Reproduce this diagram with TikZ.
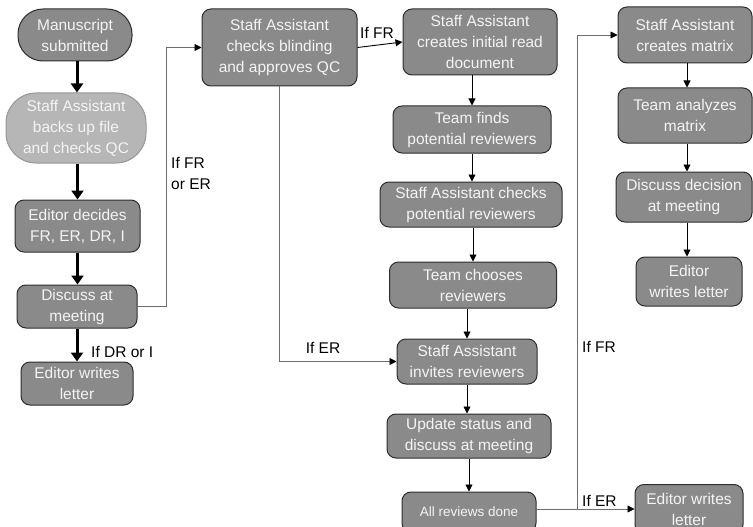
\documentclass[tikz,border=0pt]{standalone}
\usepackage{fontspec}
\setmainfont{Liberation Sans}
\usetikzlibrary{arrows.meta}
\definecolor{boxfill}{RGB}{138,138,138}
\definecolor{boxdraw}{RGB}{45,45,45}
\definecolor{lightfill}{RGB}{182,182,182}
\definecolor{lightdraw}{RGB}{150,150,150}
\definecolor{txt}{RGB}{244,244,244}
\definecolor{connc}{RGB}{110,110,110}
\begin{document}
\begin{tikzpicture}[x=1pt,y=-1pt,
  sz/.style 2 args={minimum width=#1pt, minimum height=#2pt},
  box/.style={draw=boxdraw, fill=boxfill, line width=1pt, rounded corners=9pt, text=txt, align=center, inner sep=0pt, font=\fontsize{15.5}{21}\selectfont},
  lightbox/.style={box, draw=lightdraw, fill=lightfill},
  lbl/.style={text=black, align=left, inner sep=0pt, font=\fontsize{15.5}{21}\selectfont},
  bigarr/.style={draw=black, line width=3pt, -{Triangle[length=9pt,width=12pt]}},
  arr/.style={draw=black, line width=0.9pt, -{Triangle[length=7pt,width=7pt]}},
  conn/.style={draw=connc, line width=0.9pt, -{Triangle[length=7pt,width=7pt,color=black]}}
]
\useasboundingbox (0,0) rectangle (753,527);

% left column
\node[box, sz={114}{52}, rounded corners=25pt] (ms) at (75,35) {Manuscript\\submitted};
\node[lightbox, sz={140}{70}, rounded corners=30pt] (bk) at (76,128) {Staff Assistant\\backs up file\\and checks QC};
\node[box, sz={125}{52}] (ed) at (77.5,226) {Editor decides\\FR, ER, DR, I};
\node[box, sz={120}{43}] (dm) at (77,306.5) {Discuss at\\meeting};
\node[box, sz={112}{43}] (el) at (77,383.5) {Editor writes\\letter};

\draw[bigarr] ([xshift=2pt]ms.south) -- ([xshift=2pt]ms.south |- bk.north);
\draw[bigarr] (ed.north |- bk.south) -- (ed.north);
\draw[bigarr] (ed.south) -- (ed.south |- dm.north);
\draw[bigarr] (dm.south) -- (el.north);
\node[lbl, anchor=west] (ldr) at (91,352) {If DR or I};

% middle-left
\node[box, sz={155}{77}] (cb) at (279.5,47.5) {Staff Assistant\\checks blinding\\and approves QC};
\coordinate (c1) at (166,306.5);
\draw[conn] (dm.east) -- (c1) |- (cb.west);
\node[lbl, anchor=west] (lfe) at (171,173.5) {If FR\\or ER};

% middle column
\node[box, sz={154}{66}] (ir) at (480,42) {Staff Assistant\\creates initial read\\document};
\node[box, sz={158}{47}] (tf) at (472,129.5) {Team finds\\potential reviewers};
\node[box, sz={182}{45}] (cp) at (471,204.5) {Staff Assistant checks\\potential reviewers};
\node[box, sz={167}{46}] (tc) at (473,285) {Team chooses\\reviewers};
\node[box, sz={140}{45}] (iv) at (467,361.5) {Staff Assistant\\invites reviewers};
\node[box, sz={164}{44}] (us) at (469,436) {Update status and\\discuss at meeting};
\node[box, sz={134}{40}, font=\fontsize{13.5}{18}\selectfont] (ar) at (469,512) {All reviews done};

\draw[arr] (cb.east) -- (ir.west);
\node[lbl] (lfr1) at (377,33) {If FR};
\draw[conn] (cb.south) |- (iv.west);
\node[lbl] (ler1) at (323,348) {If ER};

\draw[arr] (tf.north |- ir.south) -- (tf.north);
\draw[arr] (tf.south) -- (tf.south |- cp.north);
\draw[arr] (tc.north |- cp.south) -- (tc.north);
\draw[arr] (iv.north |- tc.south) -- (iv.north);
\draw[arr] (iv.south) -- (iv.south |- us.north);
\draw[arr] (us.south) -- (us.south |- ar.north);

% right column
\node[box, sz={134}{56}] (cm) at (685,35) {Staff Assistant\\creates matrix};
\node[box, sz={134}{55}] (ta) at (685,115.5) {Team analyzes\\matrix};
\node[box, sz={136}{50}] (dd) at (684,197) {Discuss decision\\at meeting};
\node[box, sz={106}{49}] (ew) at (689,281.5) {Editor\\writes letter};
\node[box, sz={108}{49}] (ew2) at (689,509) {Editor writes\\letter};

\draw[arr] (cm.south -| 687,0) -- (ta.north -| 687,0);
\draw[arr] (ta.south -| 687,0) -- (dd.north -| 687,0);
\draw[arr] (dd.south -| 687,0) -- (ew.north -| 687,0);

\coordinate (j) at (577,509);
\draw[conn] (j -| ar.east) -- (j) |- (cm.west);
\draw[conn] (j) -- (ew2.west);
\node[lbl, anchor=west] (lfr2) at (582,347) {If FR};
\node[lbl, anchor=west] (ler2) at (582,501) {If ER};
\end{tikzpicture}
\end{document}
